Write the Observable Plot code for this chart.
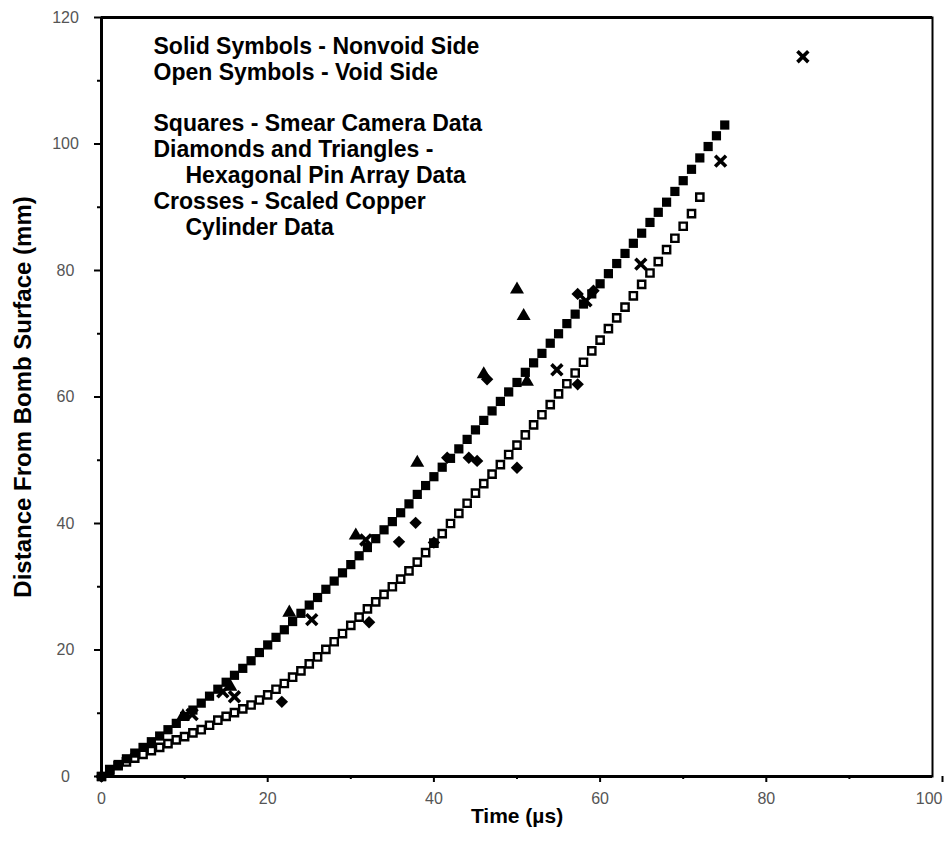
<!DOCTYPE html>
<html>
<head>
<meta charset="utf-8">
<script src="https://cdn.jsdelivr.net/npm/d3@7"></script>
<script src="https://cdn.jsdelivr.net/npm/@observablehq/plot@0.6"></script>
<style>
  html, body { margin: 0; padding: 0; background: #fff; }
  #chart svg { display: block; }
</style>
</head>
<body>
<div id="chart"></div>
<script>
// Squares - Smear Camera Data, solid (nonvoid side): time (µs), distance (mm)
const smearSolidTime = [0,1,2,3,4,5,6,7,8,9,10,11,12,13,14,15,16,17,18,19,20,21,22,23,24,25,26,27,28,29,30,31,32,33,34,35,36,37,38,39,40,41,42,43,44,45,46,47,48,49,50,51,52,53,54,55,56,57,58,59,60,61,62,63,64,65,66,67,68,69,70,71,72,73,74,75];
const smearSolidDist = [0.0,0.9,1.9,2.8,3.7,4.6,5.5,6.4,7.4,8.4,9.5,10.5,11.6,12.7,13.8,14.9,16.0,17.1,18.3,19.6,20.8,22.0,23.2,24.5,25.8,27.1,28.3,29.6,30.9,32.2,33.5,34.9,36.2,37.6,39.0,40.3,41.7,43.1,44.6,46.0,47.4,48.9,50.3,51.8,53.3,54.8,56.3,57.8,59.3,60.8,62.3,63.9,65.4,66.9,68.5,70.0,71.6,73.1,74.7,76.3,77.9,79.5,81.1,82.7,84.3,85.9,87.6,89.2,90.8,92.5,94.2,96.0,97.8,99.6,101.3,103.0];

// Squares - Smear Camera Data, open (void side)
const smearOpenTime = [0,1,2,3,4,5,6,7,8,9,10,11,12,13,14,15,16,17,18,19,20,21,22,23,24,25,26,27,28,29,30,31,32,33,34,35,36,37,38,39,40,41,42,43,44,45,46,47,48,49,50,51,52,53,54,55,56,57,58,59,60,61,62,63,64,65,66,67,68,69,70,71,72];
const smearOpenDist = [0.0,1.1,1.7,2.3,2.9,3.5,4.1,4.6,5.2,5.8,6.3,6.9,7.4,8.1,8.9,9.5,10.1,10.7,11.3,12.1,12.9,13.8,14.7,15.7,16.7,17.8,18.9,20.1,21.3,22.6,23.9,25.2,26.5,27.6,28.8,30.0,31.2,32.5,33.9,35.4,36.9,38.4,40.0,41.6,43.2,44.8,46.3,47.8,49.3,50.9,52.4,54.0,55.6,57.2,58.8,60.5,62.1,63.8,65.5,67.3,69.0,70.8,72.5,74.2,76.0,77.8,79.6,81.4,83.3,85.1,87.0,89.0,91.6];

// Diamonds - Hexagonal Pin Array Data (solid)
const pinDiamondTime = [0.0,21.7,32.2,35.8,37.8,40.0,41.6,44.2,45.2,46.4,50.0,57.3,57.3,59.2];
const pinDiamondDist = [0.0,11.8,24.4,37.1,40.1,37.0,50.4,50.4,49.9,62.8,48.8,62.0,76.3,76.8];

// Triangles - Hexagonal Pin Array Data (solid)
const pinTriangleTime = [9.8,15.5,22.6,30.6,38.0,46.0,50.0,50.8,51.2];
const pinTriangleDist = [9.5,14.2,25.9,38.1,49.6,63.6,77.0,72.8,62.4];

// Crosses - Scaled Copper Cylinder Data
const crossTime = [10.9,14.6,16.0,25.3,31.8,54.8,58.3,64.9,74.5,84.4];
const crossDist = [9.8,13.4,12.6,24.8,37.4,64.3,75.2,81.0,97.3,113.8];

// Axis ticks
const xTicks = [0,20,40,60,80];
const xLastTick = [100];
const xMinorTicks = [10,30,50,70,90];
const yTicks = [0,20,40,60,80,100,120];
const yMinorTicks = [10,30,50,70,90,110];

const xTitle = "Time (µs)";
const yTitle = "Distance From Bomb Surface (mm)";

const noteLines = [
  "Solid Symbols - Nonvoid Side",
  "Open Symbols - Void Side",
  "Squares - Smear Camera Data",
  "Diamonds and Triangles -",
  "Hexagonal Pin Array Data",
  "Crosses - Scaled Copper",
  "Cylinder Data"
];

const zip = (t, d) => t.map((v, i) => ({t: v, d: d[i]}));
const solid = zip(smearSolidTime, smearSolidDist);
const open = zip(smearOpenTime, smearOpenDist);
const diamonds = zip(pinDiamondTime, pinDiamondDist);
const triangles = zip(pinTriangleTime, pinTriangleDist);
const crosses = zip(crossTime, crossDist);

// layout of the note lines (offsets from the frame's top-left)
const noteLayout = [
  {dx: 52, dy: 20}, {dx: 52, dy: 46},
  {dx: 52, dy: 97}, {dx: 52, dy: 123}, {dx: 84, dy: 149},
  {dx: 52, dy: 175}, {dx: 84, dy: 201}
];

const font = "'Liberation Sans', Arial, Helvetica, sans-serif";
const tickGrey = "#555";

const marks = [
  Plot.frame({stroke: "black", strokeWidth: 2}),
  Plot.ruleX([0], {stroke: "black", strokeWidth: 3}),
  Plot.ruleY([0], {stroke: "black", strokeWidth: 3}),
  Plot.ruleY([120], {stroke: "black", strokeWidth: 3}),
  Plot.axisX(xTicks, {tickSize: 6, tickPadding: 10, strokeWidth: 2, fontSize: 16, fill: tickGrey, label: null}),
  Plot.axisX(xLastTick, {tickSize: 6, tickPadding: 10, strokeWidth: 2, fontSize: 16, fill: tickGrey, textAnchor: "end", dx: 10, label: null}),
  Plot.axisX(xMinorTicks, {tickSize: 3, strokeWidth: 2, tickFormat: () => "", label: null}),
  Plot.axisY(yTicks, {tickSize: 7, tickPadding: 29, textAnchor: "middle", strokeWidth: 2, fontSize: 16, fill: tickGrey, label: null}),
  Plot.axisY(yMinorTicks, {tickSize: 4, strokeWidth: 2, tickFormat: () => "", label: null}),
  Plot.text([xTitle], {frameAnchor: "bottom", dy: 46, fontSize: 21, fontWeight: "bold", fill: "black"}),
  Plot.text([yTitle], {frameAnchor: "left", textAnchor: "middle", dx: -78, rotate: -90, fontSize: 24, fontWeight: "bold", fill: "black"}),
  Plot.dot(open, {x: "t", y: "d", symbol: "square", r: 4.1, fill: "white", stroke: "black", strokeWidth: 2.4}),
  Plot.dot(solid, {x: "t", y: "d", symbol: "square", r: 5.2, fill: "black"}),
  Plot.dot(diamonds, {x: "t", y: "d", symbol: "diamond2", r: 5.6, fill: "black"}),
  Plot.dot(triangles, {x: "t", y: "d", symbol: "triangle", r: 5.2, fill: "black"}),
  Plot.dot(crosses, {x: "t", y: "d", symbol: "times", r: 5, stroke: "black", strokeWidth: 3.6})
];
noteLines.forEach((line, i) => {
  marks.push(Plot.text([line], {frameAnchor: "top-left", dx: noteLayout[i].dx, dy: noteLayout[i].dy,
    textAnchor: "start", fontSize: 23, fontWeight: "bold", fill: "black"}));
});

const chart = Plot.plot({
  width: 944,
  height: 856,
  marginLeft: 101,
  marginRight: 12,
  marginTop: 17,
  marginBottom: 80,
  style: {fontFamily: font, background: "#fff", color: "black"},
  x: {domain: [0, 100]},
  y: {domain: [0, 120]},
  marks
});
document.getElementById("chart").appendChild(chart);
</script>
</body>
</html>
